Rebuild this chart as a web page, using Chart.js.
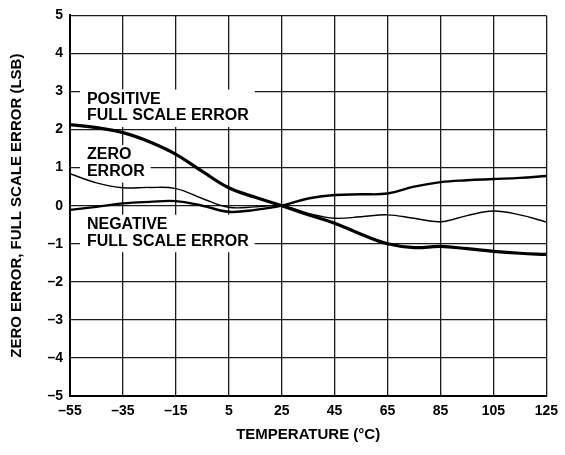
<!DOCTYPE html>
<html>
<head>
<meta charset="utf-8">
<script src="https://cdn.jsdelivr.net/npm/chart.js@4/dist/chart.umd.min.js"></script>
<style>
  html, body { margin: 0; padding: 0; background: #fff; }
</style>
</head>
<body>
<canvas id="grafico" width="565" height="455"></canvas>
<script>
// temperaturas (°C) e erros (LSB)
const temps = [-55, -45, -35, -25, -15, -5, 5, 15, 25, 35, 45, 55, 65, 75, 85, 95, 105, 115, 125];
const positiveFS = [2.13, 2.05, 1.92, 1.68, 1.35, 0.9, 0.47, 0.22, 0, -0.24, -0.46, -0.75, -1.0, -1.1, -1.07, -1.13, -1.2, -1.25, -1.28];
const zeroErr = [0.84, 0.6, 0.47, 0.48, 0.45, 0.19, -0.04, -0.03, 0, -0.2, -0.33, -0.29, -0.24, -0.33, -0.42, -0.26, -0.14, -0.24, -0.43];
const negativeFS = [-0.11, -0.03, 0.06, 0.1, 0.12, 0.0, -0.16, -0.11, 0, 0.19, 0.28, 0.3, 0.32, 0.5, 0.62, 0.67, 0.7, 0.73, 0.78];
const xTicks = [-55, -35, -15, 5, 25, 45, 65, 85, 105, 125];
const yTicks = [-5, -4, -3, -2, -1, 0, 1, 2, 3, 4, 5];

const fonte = "'Liberation Sans', Arial, sans-serif";
const menos = v => String(v).replace('-', '\u2013');

// rótulos das curvas, com fundo branco por cima da grade
const notas = [
  { x: -48.6, y: 2.79, linhas: ['POSITIVE', 'FULL SCALE ERROR'] },
  { x: -48.6, y: 1.33, linhas: ['ZERO', 'ERROR'] },
  { x: -48.6, y: -0.5, linhas: ['NEGATIVE', 'FULL SCALE ERROR'] }
];

const rotulos = {
  id: 'rotulos',
  beforeDatasetsDraw(chart) {
    const ctx = chart.ctx;
    const xs = chart.scales.x, ys = chart.scales.y;
    ctx.save();
    ctx.font = 'bold 16px ' + fonte;
    ctx.textBaseline = 'middle';
    ctx.textAlign = 'left';
    notas.forEach(n => {
      const x0 = xs.getPixelForValue(n.x);
      const y0 = ys.getPixelForValue(n.y);
      const w = Math.max(...n.linhas.map(t => ctx.measureText(t).width));
      const h = 16.5 * (n.linhas.length - 1);
      ctx.fillStyle = '#fff';
      ctx.fillRect(x0 - 7, y0 - 10, w + 13, h + 21);
      ctx.fillStyle = '#000';
      n.linhas.forEach((t, i) => ctx.fillText(t, x0, y0 + i * 16.5));
    });
    ctx.restore();
  }
};

const linha = (dados, largura) => ({
  data: temps.map((t, i) => ({ x: t, y: dados[i] })),
  borderColor: '#000',
  borderWidth: largura,
  pointRadius: 0,
  tension: 0.4,
  fill: false
});

new Chart(document.getElementById('grafico'), {
  type: 'line',
  data: {
    datasets: [
      linha(positiveFS, 3.2),
      linha(negativeFS, 2.4),
      linha(zeroErr, 1.4)
    ]
  },
  options: {
    responsive: false,
    animation: false,
    devicePixelRatio: 1,
    layout: { padding: { top: 12, right: 15, left: 0, bottom: 0 } },
    plugins: { legend: { display: false }, tooltip: { enabled: false } },
    scales: {
      x: {
        type: 'linear',
        min: -55,
        max: 125,
        afterBuildTicks: s => { s.ticks = xTicks.map(v => ({ value: v })); },
        afterFit: s => { s.height = 59; },
        grid: { color: '#1a1a1a', lineWidth: 1.3, drawTicks: false },
        border: { color: '#000', width: 2 },
        ticks: {
          padding: 7,
          color: '#000',
          maxRotation: 0,
          autoSkip: false,
          font: { family: fonte, size: 14, weight: 'bold' },
          callback: menos
        },
        title: {
          display: true,
          text: 'TEMPERATURE (°C)',
          color: '#000',
          font: { family: fonte, size: 15, weight: 'bold' },
          padding: { top: 0, bottom: 11 }
        }
      },
      y: {
        min: -5,
        max: 5,
        afterBuildTicks: s => { s.ticks = yTicks.map(v => ({ value: v })); },
        afterFit: s => { s.width = 70; },
        grid: { color: '#1a1a1a', lineWidth: 1.3, drawTicks: false },
        border: { color: '#000', width: 2 },
        ticks: {
          padding: 7,
          color: '#000',
          autoSkip: false,
          font: { family: fonte, size: 14, weight: 'bold' },
          callback: menos
        },
        title: {
          display: true,
          text: 'ZERO ERROR, FULL SCALE ERROR (LSB)',
          color: '#000',
          font: { family: fonte, size: 15, weight: 'bold' },
          padding: { top: 8, bottom: 0 }
        }
      }
    }
  },
  plugins: [rotulos]
});
</script>
</body>
</html>
